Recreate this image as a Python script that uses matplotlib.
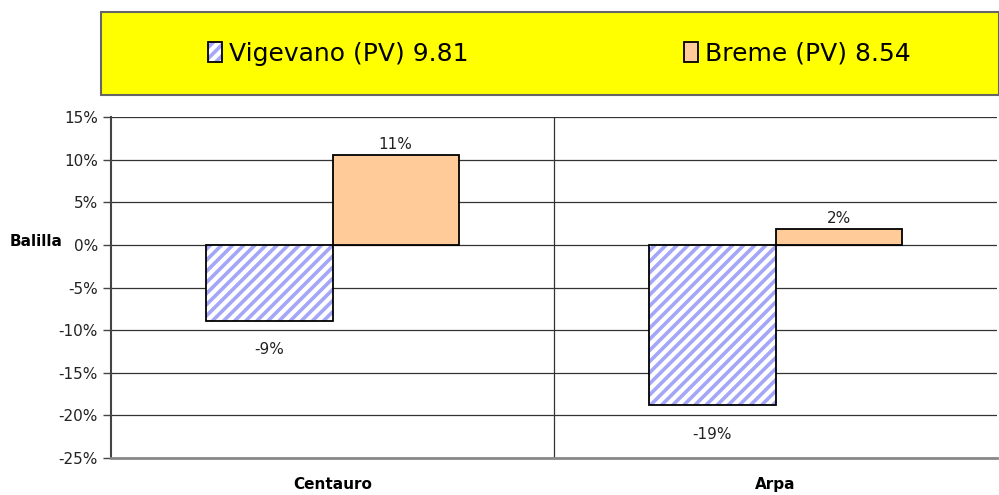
import numpy as np
import matplotlib
matplotlib.use("Agg")
import matplotlib.pyplot as plt
from matplotlib.patches import Rectangle, Patch
from matplotlib.ticker import PercentFormatter

categories = ["Centauro", "Arpa"]
series_names = ["Vigevano (PV) 9.81", "Breme (PV) 8.54"]
vigevano = [-8.9, -18.8]
breme = [10.6, 1.9]
vig_labels = ["-9%", "-19%"]
bre_labels = ["11%", "2%"]
yticks = [15, 10, 5, 0, -5, -10, -15, -20, -25]

plt.rcParams['font.family'] = ['DejaVu Sans']
plt.rcParams['hatch.linewidth'] = 2.6
plt.rcParams['axes.unicode_minus'] = False

fig = plt.figure(figsize=(9.99, 4.95), dpi=100)
ax = fig.add_axes([111/999, 1-458/495, 886/999, 341/495])

x = np.arange(len(categories))
w = 0.285
stripe = '#a4a6f7'

# hatched bars (blue stripes), then black outline on top
ax.bar(x - w/2, vigevano, w, color='white', edgecolor=stripe, hatch='///', linewidth=0, zorder=3)
ax.bar(x - w/2, vigevano, w, fill=False, edgecolor='black', linewidth=1.3, zorder=4)
ax.bar(x + w/2, breme, w, color='#ffcc99', edgecolor='black', linewidth=1.3, zorder=4)

for xi, v, t in zip(x, vigevano, vig_labels):
    ax.annotate(t, (xi - w/2, v), xytext=(0, -29), textcoords='offset pixels',
                ha='center', va='center', fontsize=11, color='#222222')
for xi, v, t in zip(x, breme, bre_labels):
    ax.annotate(t, (xi + w/2, v), xytext=(0, 10), textcoords='offset pixels',
                ha='center', va='center', fontsize=11, color='#222222')

ax.set_xlim(-0.5, 1.5)
ax.set_ylim(-25, 15)
ax.set_yticks(yticks)
ax.yaxis.set_major_formatter(PercentFormatter(decimals=0))
ax.set_xticks(x)
ax.set_xticklabels(categories, fontweight='bold', fontsize=11)
ax.tick_params(axis='x', length=0, pad=14)
ax.tick_params(axis='y', length=6, width=1, color='#444444', labelsize=11, labelcolor='#222222')

for y in yticks:
    ax.axhline(y, color='#333333', linewidth=0.9, zorder=1)
ax.axvline(0.5, color='#333333', linewidth=0.9, zorder=1)

ax.spines['top'].set_visible(False)
ax.spines['right'].set_visible(False)
ax.spines['left'].set_color('#444444')
ax.spines['left'].set_linewidth(1.5)
ax.spines['bottom'].set_color('#888888')
ax.spines['bottom'].set_linewidth(2)

fig.text(10/999, 1-241/495, "Balilla", fontweight='bold', fontsize=11, ha='left', va='center')

# yellow legend box
fig.patches.append(Rectangle((101/999, 1-95/495), 898/999, 83/495, transform=fig.transFigure,
                             facecolor='#ffff00', edgecolor='#666666', linewidth=1.5))
h1 = (Patch(facecolor='white', edgecolor=stripe, hatch='///', linewidth=0),
      Patch(fill=False, edgecolor='black', linewidth=1.3))
h2 = Patch(facecolor='#ffcc99', edgecolor='black', linewidth=1.3)
fig.legend([h1, h2], series_names, loc='center', bbox_to_anchor=(0.56, 1-54/495),
           ncol=2, frameon=False, handlelength=0.58, handleheight=0.85,
           handletextpad=0.28, columnspacing=8.6, fontsize=18)

fig.savefig("out.png", dpi=100)
